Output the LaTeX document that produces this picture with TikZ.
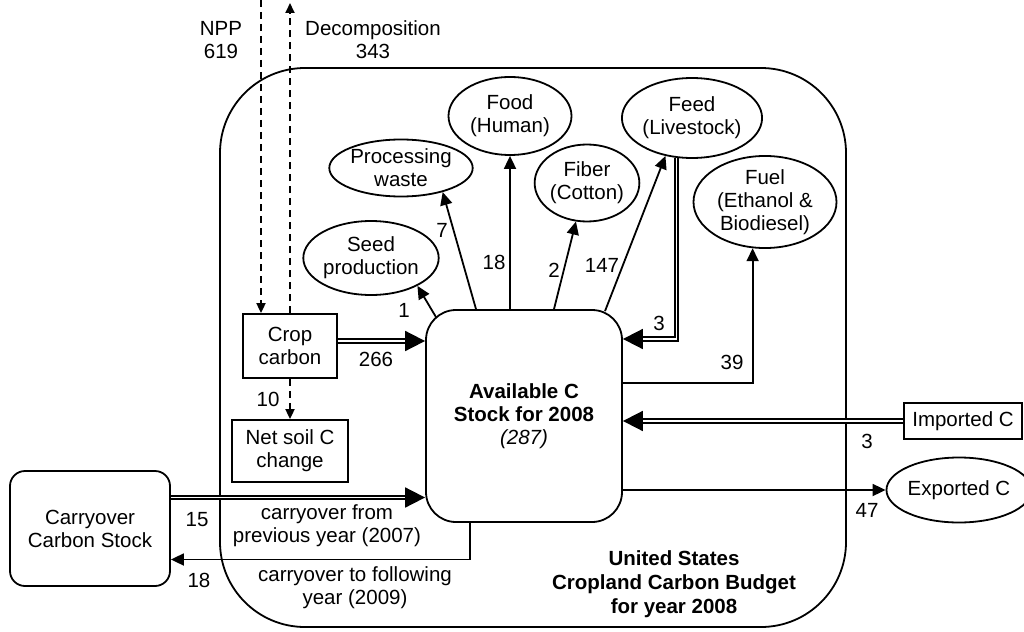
\documentclass[tikz,border=0pt]{standalone}
\usepackage{fontspec}
\setmainfont{Liberation Sans}
\usetikzlibrary{shapes.geometric,arrows.meta}
\tikzset{
    flow-box/.style = {draw, rectangle, line width=1.8pt, align=center, inner sep=0pt},
    flow-oval/.style = {draw, ellipse, line width=1.8pt, align=center, inner sep=0pt},
    flow-label/.style = {inner sep=0pt, align=center},
    flow-title/.style = {inner sep=0pt, align=center, font=\fontsize{20.5}{24}\selectfont\bfseries},
    flow-arrow/.style = {line width=1.8pt, -{Triangle[length=13pt,width=12pt]}},
    double-arrow/.style = {line width=1.8pt, double distance=1.5pt, -{Triangle[length=20pt,width=20pt]}},
    dashed-arrow/.style = {line width=1.8pt, dash pattern=on 7pt off 5pt, -{Triangle[length=10pt,width=9pt]}},
}
\begin{document}
\begin{tikzpicture}[x=1pt,y=-1pt,font=\fontsize{20.5}{23}\selectfont]
\useasboundingbox (0,0) rectangle (1024,631);
\node[flow-box, rounded corners=85pt, minimum width=626pt, minimum height=559pt] (budget) at (533,347.5) {};
\node[flow-title] (budget-title) at (674,584) {United States\\Cropland Carbon Budget\\for year 2008};

\node[flow-box, rounded corners=30pt, minimum width=196pt, minimum height=212pt] (avail) at (524,416) {\textbf{Available C}\\\textbf{Stock for 2008}\\\textit{(287)}};
\node[flow-box, minimum width=94pt, minimum height=64pt] (crop) at (290,346) {Crop\\carbon};
\node[flow-box, minimum width=116pt, minimum height=62pt] (soil) at (290,451) {Net soil C\\change};
\node[flow-box, rounded corners=15pt, minimum width=160pt, minimum height=115pt] (carry) at (90,528.5) {Carryover\\Carbon Stock};
\node[flow-box, minimum width=118pt, minimum height=36pt] (imported) at (963,421) {Imported C};
\node[flow-oval, minimum width=126pt, minimum height=65pt] (exported) at (959,490) {Exported C};

\node[flow-oval, minimum width=129pt, minimum height=74pt] (seed) at (371,258) {Seed\\production};
\node[flow-oval, minimum width=131pt, minimum height=57pt] (waste) at (401,168) {Processing\\waste};
\node[flow-oval, minimum width=123pt, minimum height=78pt] (food) at (510,116) {Food\\(Human)};
\node[flow-oval, minimum width=98pt, minimum height=77pt] (fiber) at (587,183) {Fiber\\(Cotton)};
\node[flow-oval, minimum width=126pt, minimum height=80pt] (feed) at (692,118) {Feed\\(Livestock)};
\node[flow-oval, minimum width=143pt, minimum height=89pt] (fuel) at (765,202) {Fuel\\(Ethanol \&\\Biodiesel)};

\coordinate (npp-in) at (261,0);
\coordinate (decomp-out) at (290,3);
\draw[dashed-arrow] (npp-in) -- ([xshift=-29pt]crop.north);
\draw[dashed-arrow] (crop.north) -- (decomp-out);
\draw[dashed-arrow] (crop.south) -- (soil.north);
\node[flow-label] (npp-text) at (221,40.5) {NPP\\619};
\node[flow-label] (decomp-text) at (373,39.5) {Decomposition\\343};
\node[flow-label] (soil-num) at (268,399) {10};

\draw[double-arrow] ([yshift=5pt]crop.east) -- ([yshift=5pt]crop.east -| avail.west);
\node[flow-label] (crop-num) at (376,359) {266};

\draw[flow-arrow] ([xshift=-88pt,yshift=-8pt]avail.north) -- (seed.-31);
\draw[flow-arrow] ([xshift=-48pt]avail.north) -- (waste.-30);
\draw[flow-arrow] (avail.north -| food) -- (food.south);
\draw[flow-arrow] ([xshift=30pt]avail.north) -- (fiber.-106);
\draw[flow-arrow] ([xshift=81pt,yshift=-2pt]avail.north) -- (feed.-125);
\node[flow-label] (seed-num) at (404,310) {1};
\node[flow-label] (waste-num) at (442,230) {7};
\node[flow-label] (food-num) at (494,262) {18};
\node[flow-label] (fiber-num) at (554,270) {2};
\node[flow-label] (feed-num) at (602,265) {147};

\draw[double-arrow] (feed.-111) |- ([yshift=77pt]avail.east);
\node[flow-label] (back-num) at (659,323) {3};
\draw[flow-arrow] ([yshift=33pt]avail.east) -| (fuel.-105);
\node[flow-label] (fuel-num) at (732,362) {39};

\draw[double-arrow] (imported.west) -- (imported.west -| avail.east);
\node[flow-label] (imported-num) at (867,441) {3};
\draw[flow-arrow] (exported.west -| avail.east) -- (exported.west);
\node[flow-label] (exported-num) at (867,510) {47};

\draw[double-arrow] ([yshift=31pt]carry.east) -- ([yshift=31pt]carry.east -| avail.west);
\node[flow-label] (carry-in-num) at (197,520) {15};
\node[flow-label] (carry-in-text) at (327,526) {carryover from\\previous year (2007)};
\draw[flow-arrow] ([xshift=-54pt]avail.south) |- ([yshift=-31pt]carry.east);
\node[flow-label] (carry-out-num) at (199,580) {18};
\node[flow-label] (carry-out-text) at (355,587.5) {carryover to following\\year (2009)};
\end{tikzpicture}
\end{document}
